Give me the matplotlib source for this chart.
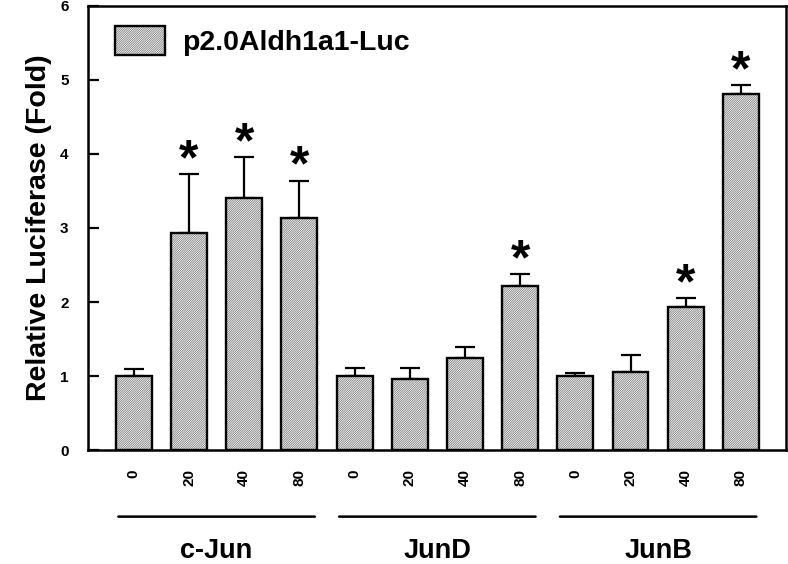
import numpy as np
import matplotlib.pyplot as plt

plt.rcParams['font.family'] = ['Liberation Sans', 'DejaVu Sans']
plt.rcParams['font.weight'] = 'bold'
plt.rcParams['hatch.linewidth'] = 0.6

# data
groups = ["c-Jun", "JunD", "JunB"]
doses = ["0", "20", "40", "80"]
cjun = [1.00, 2.93, 3.40, 3.14]
cjun_err = [0.10, 0.80, 0.56, 0.50]
jund = [1.00, 0.96, 1.25, 2.22]
jund_err = [0.11, 0.15, 0.14, 0.16]
junb = [1.00, 1.05, 1.93, 4.81]
junb_err = [0.04, 0.23, 0.12, 0.12]
signif = [False, True, True, True, False, False, False, True, False, False, True, True]

values = np.array(cjun + jund + junb)
errors = np.array(cjun_err + jund_err + junb_err)
labels = doses * 3
x = np.arange(len(values))

HATCH = '/' * 15
HATCH_COL = '#808080'

fig = plt.figure(figsize=(7.88, 5.64), dpi=100)
ax = fig.add_axes([0.1117, 0.2021, 0.886, 0.7873])

# hatched fill, then black outline on top
ax.bar(x, values, width=0.65, color='white', edgecolor=HATCH_COL, hatch=HATCH, linewidth=0, zorder=2)
ax.bar(x, values, width=0.65, fill=False, edgecolor='black', linewidth=1.7, zorder=3)
ax.errorbar(x, values, yerr=[np.zeros_like(errors), errors], fmt='none', ecolor='black',
            elinewidth=1.6, capsize=7.5, capthick=1.6, zorder=1)

for xi, v, e, s in zip(x, values, errors, signif):
    if s:
        ax.text(xi, v + e + 0.0, "*", ha='center', va='baseline', fontsize=36, fontweight='bold')

ax.set_xlim(-0.83, 11.82)
ax.set_ylim(0, 6)
ax.set_yticks(range(7))
ax.set_yticklabels([str(i) for i in range(7)], fontsize=11, fontweight='bold')
ax.tick_params(axis='y', direction='in', length=8, width=1.6, pad=14, right=False)
ax.set_xticks(x)
ax.set_xticklabels(labels, rotation=90, fontsize=11, fontweight='bold')
ax.tick_params(axis='x', length=0, pad=14)
for sp in ax.spines.values():
    sp.set_linewidth(1.8)

ax.set_ylabel("Relative Luciferase (Fold)", fontsize=20.5, fontweight='bold', labelpad=6)

# legend
h_fill = plt.Rectangle((0, 0), 1, 1, facecolor='white', edgecolor=HATCH_COL, hatch=HATCH, linewidth=0)
h_edge = plt.Rectangle((0, 0), 1, 1, fill=False, edgecolor='black', linewidth=1.7)
ax.legend([(h_fill, h_edge)], ["p2.0Aldh1a1-Luc"], loc='upper left', frameon=False,
          prop={'size': 20.5, 'weight': 'bold'}, handlelength=1.75, handleheight=1.2,
          handletextpad=0.6, borderpad=0, borderaxespad=0,
          bbox_to_anchor=(0.0387, 0.955))

# group lines and labels below axis
for gi, name in enumerate(groups):
    x0 = gi * 4 - 0.33
    x1 = gi * 4 + 3.33
    ax.annotate("", xy=(x0, -0.9), xytext=(x1, -0.9), annotation_clip=False,
                arrowprops=dict(arrowstyle='-', lw=1.8, color='black'))
    ax.text((x0 + x1) / 2, -1.37, name, ha='center', va='center', fontsize=19.5,
            fontweight='bold', clip_on=False)

fig.savefig("out.png", dpi=100)
